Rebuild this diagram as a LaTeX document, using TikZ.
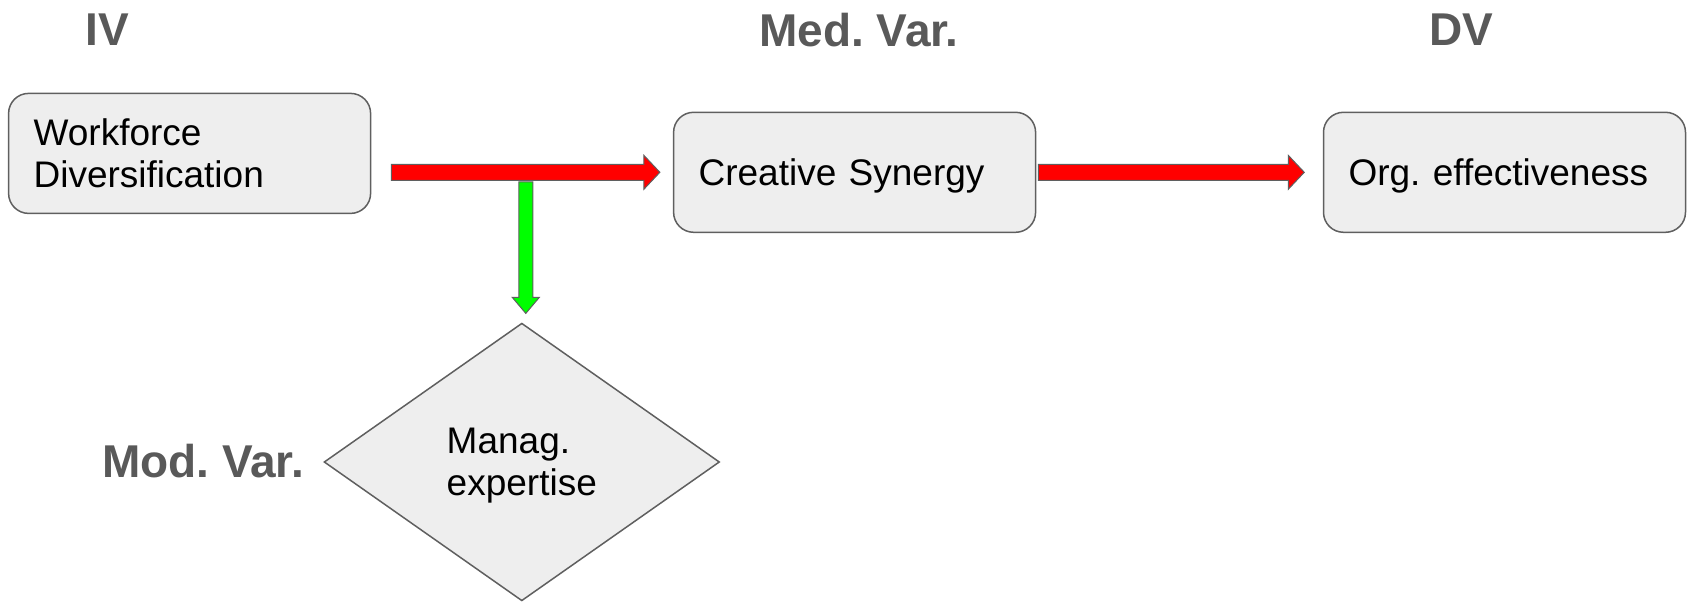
\documentclass[tikz,border=0pt]{standalone}
\usepackage{fontspec}
\setmainfont{Liberation Sans}
\usetikzlibrary{shapes.geometric,calc}
\frenchspacing

\definecolor{labelgray}{HTML}{595959}
\definecolor{boxfill}{HTML}{EEEEEE}
\definecolor{boxline}{HTML}{5F5F5F}
\definecolor{arrowred}{HTML}{FF0000}
\definecolor{arrowgreen}{HTML}{00FF00}

\tikzset{
  varbox/.style={draw=boxline, fill=boxfill, line width=0.75pt, rounded corners=10pt,
    minimum width=181pt, minimum height=60pt, text width=156pt, inner xsep=12.5pt,
    align=left, font=\fontsize{18.5}{21}\selectfont},
  onebox/.style={varbox, text depth=0pt},
  modbox/.style={diamond, draw=boxline, fill=boxfill, line width=0.75pt,
    minimum width=197.75pt, minimum height=138.85pt, inner sep=0pt,
    text depth=0pt, align=left, font=\fontsize{18.5}{21}\selectfont},
  heading/.style={text=labelgray, inner sep=0pt, font=\fontsize{23}{27}\selectfont\bfseries},
  redarrow/.style={fill=arrowred, draw=boxline, line width=0.5pt},
  greenarrow/.style={fill=arrowgreen, draw=boxline, line width=0.5pt}
}

\begin{document}
\begin{tikzpicture}[x=0.5pt, y=-0.5pt]

  \useasboundingbox (0,0) rectangle (1694,604);

  % variables
  \node[varbox] (wd) at (189.6,153.4) {Workforce\\Diversification};
  \node[onebox] (cs) at (854.6,172.3) {Creative Synergy};
  \node[onebox] (oe) at (1504.5,172.3) {Org. effectiveness};
  \node[modbox] (me) at (521.8,462) {Manag.\\expertise};

  % headings
  \node[heading] (iv) at (107,30) {IV};
  \node[heading] (med) at (859,30) {Med. Var.};
  \node[heading] (dv) at (1461,30) {DV};
  \node[heading] (mod) at (203,461.5) {Mod. Var.};

  % arrow ends
  \coordinate (a1s) at ($(wd.east |- cs.west)+(20,0)$);
  \coordinate (a1e) at ($(cs.west)+(-13,0)$);
  \coordinate (a2s) at ($(cs.east)+(2,0)$);
  \coordinate (a2e) at ($(oe.west)+(-18.5,0)$);
  \coordinate (gre) at ($(me.north)+(4,-9)$);
  \coordinate (grs) at ($(gre |- a1s)+(0,9.5)$);

  \draw[greenarrow] ($(grs)+(-7,0)$) -- ($(gre)+(-7,-16)$) -- ($(gre)+(-13.5,-16)$) -- (gre)
    -- ($(gre)+(13.5,-16)$) -- ($(gre)+(7,-16)$) -- ($(grs)+(7,0)$) -- cycle;

  \draw[redarrow] ($(a1s)+(0,-8)$) -- ($(a1e)+(-16,-8)$) -- ($(a1e)+(-16,-17)$) -- (a1e)
    -- ($(a1e)+(-16,17)$) -- ($(a1e)+(-16,8)$) -- ($(a1s)+(0,8)$) -- cycle;

  \draw[redarrow] ($(a2s)+(0,-8)$) -- ($(a2e)+(-16,-8)$) -- ($(a2e)+(-16,-17)$) -- (a2e)
    -- ($(a2e)+(-16,17)$) -- ($(a2e)+(-16,8)$) -- ($(a2s)+(0,8)$) -- cycle;

\end{tikzpicture}
\end{document}
